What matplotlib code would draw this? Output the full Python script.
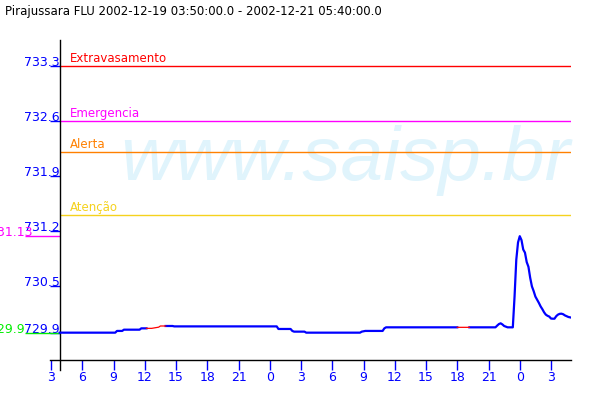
import numpy as np
import pandas as pd
import matplotlib
matplotlib.use("Agg")
import matplotlib.pyplot as plt
import matplotlib.dates as mdates
from matplotlib.ticker import FuncFormatter

# ==================================================
# dados
# ==================================================
titulo = "Pirajussara FLU 2002-12-19 03:50:00.0 - 2002-12-21 05:40:00.0"

# serie medida (azul)
tempos = [
    "2002-12-19 03:50", "2002-12-19 09:10", "2002-12-19 09:20", "2002-12-19 09:50",
    "2002-12-19 10:00", "2002-12-19 11:30", "2002-12-19 11:40", "2002-12-19 12:10",
    None,
    "2002-12-19 14:00", "2002-12-19 14:40", "2002-12-19 14:50", "2002-12-20 00:40",
    "2002-12-20 00:50", "2002-12-20 02:00", "2002-12-20 02:10", "2002-12-20 02:20",
    "2002-12-20 03:20", "2002-12-20 03:30", "2002-12-20 08:40", "2002-12-20 08:50",
    "2002-12-20 09:10", "2002-12-20 10:50", "2002-12-20 11:00", "2002-12-20 11:10",
    "2002-12-20 18:00",
    None,
    "2002-12-20 19:10", "2002-12-20 21:40", "2002-12-20 21:50", "2002-12-20 22:00",
    "2002-12-20 22:10", "2002-12-20 22:20", "2002-12-20 22:30", "2002-12-20 22:50",
    "2002-12-20 23:20", "2002-12-20 23:30", "2002-12-20 23:40", "2002-12-20 23:50",
    "2002-12-21 00:00", "2002-12-21 00:10", "2002-12-21 00:20", "2002-12-21 00:30",
    "2002-12-21 00:40", "2002-12-21 00:50", "2002-12-21 01:00", "2002-12-21 01:10",
    "2002-12-21 01:20", "2002-12-21 01:30", "2002-12-21 01:40", "2002-12-21 01:50",
    "2002-12-21 02:00", "2002-12-21 02:10", "2002-12-21 02:20", "2002-12-21 02:30",
    "2002-12-21 02:40", "2002-12-21 02:50", "2002-12-21 03:00", "2002-12-21 03:10",
    "2002-12-21 03:20", "2002-12-21 03:30", "2002-12-21 03:40", "2002-12-21 03:50",
    "2002-12-21 04:00", "2002-12-21 04:10", "2002-12-21 04:20", "2002-12-21 04:30",
    "2002-12-21 04:40", "2002-12-21 04:50",
]
cotas = [
    729.900, 729.900, 729.922, 729.922,
    729.938, 729.938, 729.955, 729.955,
    None,
    729.985, 729.985, 729.980, 729.980,
    729.947, 729.947, 729.922, 729.913,
    729.913, 729.900, 729.900, 729.913,
    729.922, 729.922, 729.955, 729.968,
    729.968,
    None,
    729.968, 729.968, 729.990, 730.010,
    730.019, 730.005, 729.985, 729.968,
    729.968, 730.360, 730.830, 731.050,
    731.130, 731.080, 730.960, 730.920,
    730.800, 730.740, 730.600, 730.490,
    730.430, 730.360, 730.320, 730.280,
    730.235, 730.200, 730.160, 730.130,
    730.115, 730.105, 730.080, 730.078,
    730.078, 730.110, 730.130, 730.140,
    730.142, 730.135, 730.120, 730.110,
    730.100, 730.095,
]

# trechos sem dado (vermelho)
tempos_falha = ["2002-12-19 12:10", "2002-12-19 12:40", "2002-12-19 13:20", "2002-12-19 13:30",
                "2002-12-19 14:00", None, "2002-12-20 18:00", "2002-12-20 19:10"]
cotas_falha = [729.955, 729.955, 729.970, 729.985, 729.985, None, 729.968, 729.968]

# cotas de referencia
niveis_nome = ["Extravasamento", "Emergencia", "Alerta", "Atenção"]
niveis_valor = [733.3, 732.6, 732.2, 731.4]
niveis_cor = ["#ff0000", "#ff00ff", "#ff8000", "#f5d21e"]

yticks = [729.9, 730.5, 731.2, 731.9, 732.6, 733.3]
yticklabels = ["729.9", "730.5", "731.2", "731.9", "732.6", "733.3"]

# ==================================================
# grafico
# ==================================================
def to_num(lst):
    return np.array([np.nan if s is None else mdates.date2num(pd.Timestamp(s).to_pydatetime())
                     for s in lst])

def to_v(lst):
    return np.array([np.nan if x is None else x for x in lst])

t = to_num(tempos)
v = to_v(cotas)
tf = to_num(tempos_falha)
vf = to_v(cotas_falha)

px_h = 500 / 48  # pixels por hora
dia = 24 * px_h   # pixels por dia
inicio = mdates.date2num(pd.Timestamp("2002-12-19 03:50").to_pydatetime())
x0 = mdates.date2num(pd.Timestamp("2002-12-19 02:54:14").to_pydatetime())
x1 = mdates.date2num(pd.Timestamp("2002-12-21 04:53:24").to_pydatetime())

fig = plt.figure(figsize=(6, 4), dpi=100)
fig.patch.set_facecolor("white")
ax = fig.add_axes([50 / 600, 30 / 400, 520.7 / 600, 330 / 400])
ax.xaxis_date()
ax.set_xlim(x0, x1)
ax.set_ylim(729.424, 733.631)

for s in ["top", "right"]:
    ax.spines[s].set_visible(False)
ax.spines["left"].set_position(("data", inicio))
ax.spines["bottom"].set_position(("data", 729.551))
ax.spines["left"].set_linewidth(1.0)
ax.spines["bottom"].set_linewidth(1.0)

# marca d'agua
ax.text(120 / 600, 220 / 400, "www.saisp.br", transform=fig.transFigure,
        family="Liberation Sans", style="italic", fontsize=55, color="#e0f4fc",
        va="baseline", ha="left", zorder=0, clip_on=False)

# niveis
for nome, val, cor in zip(niveis_nome, niveis_valor, niveis_cor):
    ax.hlines(val, inicio, x1, colors=cor, linewidth=1.0, zorder=2)
    ax.annotate(nome, (inicio, val), xytext=(7.2, 2.9),
                textcoords="offset points", color=cor, fontsize=8.5,
                va="baseline", ha="left")

# serie
ax.plot(t, v, color="#0000ff", linewidth=1.6, zorder=3)
ax.plot(tf, vf, color="#ff0000", linewidth=0.9, zorder=3)

# maximo e minimo
vmax, vmin = np.nanmax(v), np.nanmin(v)
esq = inicio - 35 / dia
for val, cor, dx in [(vmax, "#ff00ff", -19.4), (vmin, "#00ee00", -25.2)]:
    ax.hlines(val, esq, inicio, colors=cor, linewidth=1.0, clip_on=False, zorder=2)
    ax.annotate(f"{val:g}", (inicio, val), xytext=(dx, 0),
                textcoords="offset points", color=cor, fontsize=9,
                va="baseline", ha="right", annotation_clip=False)

# eixos
ax.set_yticks(yticks, yticklabels)
ax.tick_params(axis="y", direction="out", length=7.2, width=1.0, color="#0000ff",
               labelcolor="#0000ff", labelsize=9, pad=-7.4)
for lab in ax.get_yticklabels():
    lab.set_verticalalignment("baseline")

ax.xaxis.set_major_locator(mdates.HourLocator(byhour=range(0, 24, 3)))
ax.xaxis.set_major_formatter(FuncFormatter(lambda x, p: str(mdates.num2date(x).hour)))
ax.tick_params(axis="x", direction="out", length=7.2, width=1.0, color="#0000ff",
               labelcolor="#0000ff", labelsize=9, pad=0.5)

fig.text(5 / 600, 385 / 400, titulo, fontsize=8.5, color="black", va="baseline", ha="left")

fig.savefig("out.png", dpi=100)
